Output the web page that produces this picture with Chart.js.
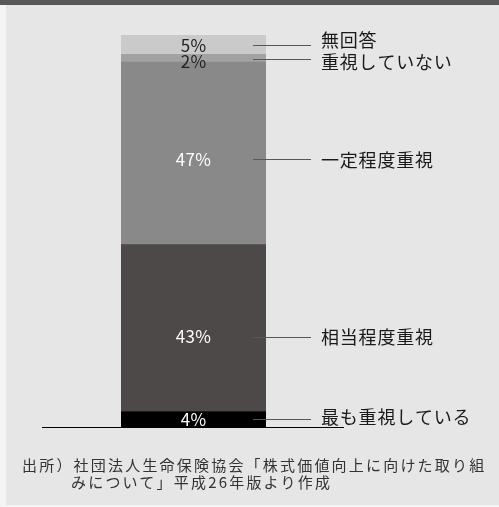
<!DOCTYPE html>
<html lang="ja">
<head>
<meta charset="utf-8">
<script src="https://cdn.jsdelivr.net/npm/chart.js@4.4.1/dist/chart.umd.min.js"></script>
<style>
  html, body { margin: 0; padding: 0; }
  body { width: 499px; height: 507px; background: #f4f4f4; position: relative; overflow: hidden;
         font-family: "Noto Sans CJK JP", "Noto Sans", sans-serif; }
  #panel { position: absolute; left: 6px; top: 0; width: 493px; height: 505px; background: #e6e6e6; }
  #header { position: absolute; left: 0; top: 0; width: 499px; height: 5px; background: #595757; }
  #chart { position: absolute; left: 0; top: 0; }
  #source { position: absolute; left: 22px; top: 456px; font-size: 15px; line-height: 17px;
            letter-spacing: 2.2px; color: #333; white-space: nowrap;
            padding-left: 49px; text-indent: -49px; }
</style>
</head>
<body>
<div id="panel"></div>
<div id="header"></div>
<canvas id="chart" width="499" height="507"></canvas>
<div id="source">出所）社団法人生命保険協会「株式価値向上に向けた取り組<br>みについて」平成26年版より作成</div>
<script>
// Data: one stacked bar, bottom segment first
const categories = ['回答'];
const seriesNames = ['最も重視している', '相当程度重視', '一定程度重視', '重視していない', '無回答'];
const seriesValues = [4, 43, 47, 2, 5];

// Styles per segment (same order)
const segmentColors = ['#000000', '#4c4948', '#898989', '#a1a2a1', '#c9cac9'];
const valueTextColors = ['#ffffff', '#ffffff', '#ffffff', '#222222', '#222222'];
const valueShift = [0, 9, 6, 3.5, 0.5];   // px from segment middle
const lineShift = [0, 9, 5.5, 0.5, 0];
const textShift = [-2.5, 9.5, 7, 3.5, -5];

const total = seriesValues.reduce((a, b) => a + b, 0);

// Labels, leader lines and base line drawn after the bars
const labelPlugin = {
    id: 'segmentLabels',
    afterDatasetsDraw(chart) {
        const ctx = chart.ctx;
        const yScale = chart.scales.y;
        ctx.save();
        seriesValues.forEach((v, i) => {
            const bar = chart.getDatasetMeta(i).data[0];
            const mid = (bar.y + bar.base) / 2;
            const right = bar.x + bar.width / 2;

            // value inside the bar
            ctx.font = '17px "Noto Sans CJK JP"';
            ctx.letterSpacing = '0.3px';
            ctx.fillStyle = valueTextColors[i];
            ctx.textAlign = 'center';
            ctx.textBaseline = 'middle';
            ctx.fillText(v + '%', bar.x, mid + valueShift[i]);

            // leader line
            const ly = Math.round(mid + lineShift[i]) + 0.5;
            ctx.strokeStyle = '#595757';
            ctx.lineWidth = 1;
            ctx.beginPath();
            ctx.moveTo(right - 13, ly);
            ctx.lineTo(right + 45, ly);
            ctx.stroke();

            // category name
            ctx.font = '18px "Noto Sans CJK JP"';
            ctx.letterSpacing = '0.8px';
            ctx.fillStyle = '#1a1a1a';
            ctx.textAlign = 'left';
            ctx.fillText(seriesNames[i], right + 55, mid + textShift[i]);
        });

        // base line under the bar
        const by = Math.round(yScale.getPixelForValue(0)) + 0.5;
        ctx.strokeStyle = '#000000';
        ctx.lineWidth = 1;
        ctx.beginPath();
        ctx.moveTo(42, by);
        ctx.lineTo(344, by);
        ctx.stroke();
        ctx.restore();
    }
};

new Chart(document.getElementById('chart'), {
    type: 'bar',
    data: {
        labels: categories,
        datasets: seriesNames.map((name, i) => ({
            label: name,
            data: [seriesValues[i]],
            backgroundColor: segmentColors[i],
            borderWidth: 0,
            barPercentage: 1,
            categoryPercentage: 1
        }))
    },
    options: {
        responsive: false,
        devicePixelRatio: 1,
        animation: false,
        layout: { padding: { left: 121, right: 233, top: 35, bottom: 80 } },
        plugins: { legend: { display: false }, tooltip: { enabled: false } },
        scales: {
            x: { stacked: true, display: false },
            y: { stacked: true, display: false, min: 0, max: total }
        }
    },
    plugins: [labelPlugin]
});
</script>
</body>
</html>
